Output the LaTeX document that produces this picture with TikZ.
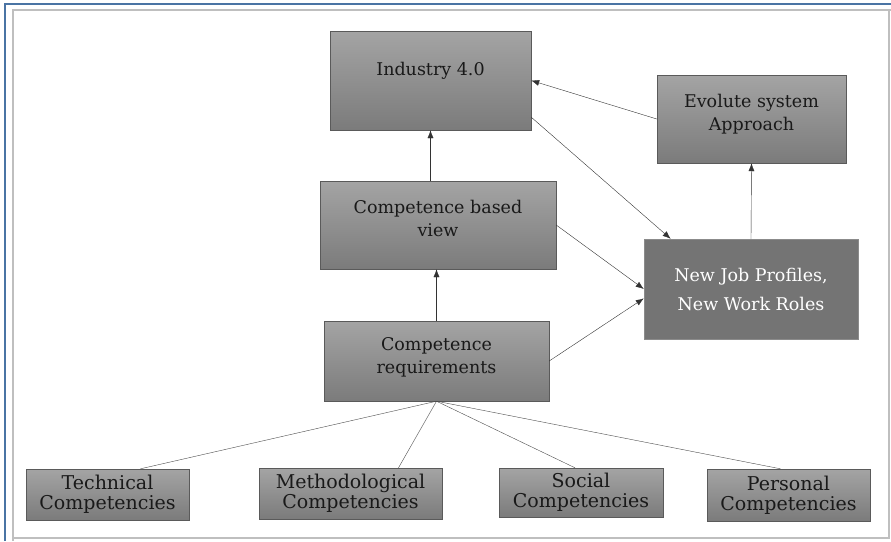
\documentclass[tikz,border=0pt]{standalone}
\usepackage{fontspec}
\setmainfont{DejaVu Serif}
\usepackage{tikz}
\usetikzlibrary{positioning,calc,arrows.meta}
\usepackage{xcolor}
\definecolor{boxtop}{HTML}{A4A4A4}
\definecolor{boxbot}{HTML}{7B7B7B}
\definecolor{boxline}{HTML}{5A5A5A}
\definecolor{frameblue}{HTML}{4A74A4}

\begin{document}
\begin{tikzpicture}[
  x=1pt, y=-1pt,
  font=\fontsize{17.5}{23}\selectfont,
  >={Latex[length=8pt,width=6pt]},
  box/.style={draw=boxline, top color=boxtop, bottom color=boxbot, align=center, text=black!90, inner sep=2pt},
  solidbox/.style={draw=boxline!70, fill=boxbot!105, align=center, text=white, inner sep=2pt},
  smallbox/.style={box, font=\fontsize{19}{20}\selectfont},
  flow/.style={->, thin, black!80},
  branch/.style={thin, black!70},
]
\useasboundingbox (0,0) rectangle (891,541);

% frame
\draw[black!25, line width=1.5pt] (13,541) -- (13,10) -- (891,10);
\draw[black!25, line width=1.5pt] (889,10) -- (889,538) -- (13,538);
\draw[frameblue, line width=2.5pt] (5,541) -- (5,4) -- (891,4);

\node[box, minimum width=201pt, minimum height=99pt, text depth=24pt] (ind) at (430.5,80.5) {Industry 4.0};
\node[box, minimum width=189pt, minimum height=88pt, text depth=14pt] (evo) at (751.5,119) {Evolute system\\Approach};
\node[box, minimum width=236pt, minimum height=88pt, text depth=14pt] (cbv) at (438,225) {Competence based\\view};
\node[solidbox, minimum width=214pt, minimum height=100pt] (njp) at (751,289) {New Job Profiles,\\[6pt]New Work Roles};
\node[box, minimum width=225pt, minimum height=80pt, text depth=12pt] (creq) at (436.5,361) {Competence\\requirements};

\node[smallbox, minimum width=163pt, minimum height=51pt] (tech) at (107.5,494.5) {Technical\\Competencies};
\node[smallbox, minimum width=183pt, minimum height=51pt] (meth) at (350.5,493.5) {Methodological\\Competencies};
\node[smallbox, minimum width=164pt, minimum height=49pt] (soc) at (581,492.5) {Social\\Competencies};
\node[smallbox, minimum width=163pt, minimum height=52pt] (pers) at (788.5,495) {Personal\\Competencies};

\draw[flow] (cbv.north -| ind.south) -- (ind.south);
\draw[flow] (creq.north) -- (cbv.south -| creq.north);
\draw[flow] (evo.west) -- (ind.east);
\draw[flow] (ind.-20) -- (njp.148);
\draw[flow] (cbv.east) -- (njp.west);
\draw[flow] (creq.east) -- (njp.185);
\draw[flow] (njp.north) -- (evo.south);

\draw[branch] (creq.south) -- ($(tech.north)+(33,0)$);
\draw[branch] (creq.south) -- ($(meth.north)+(48,0)$);
\draw[branch] (creq.south) -- ($(soc.north)+(-6,0)$);
\draw[branch] (creq.south) -- ($(pers.north)+(-8,0)$);

\end{tikzpicture}
\end{document}
